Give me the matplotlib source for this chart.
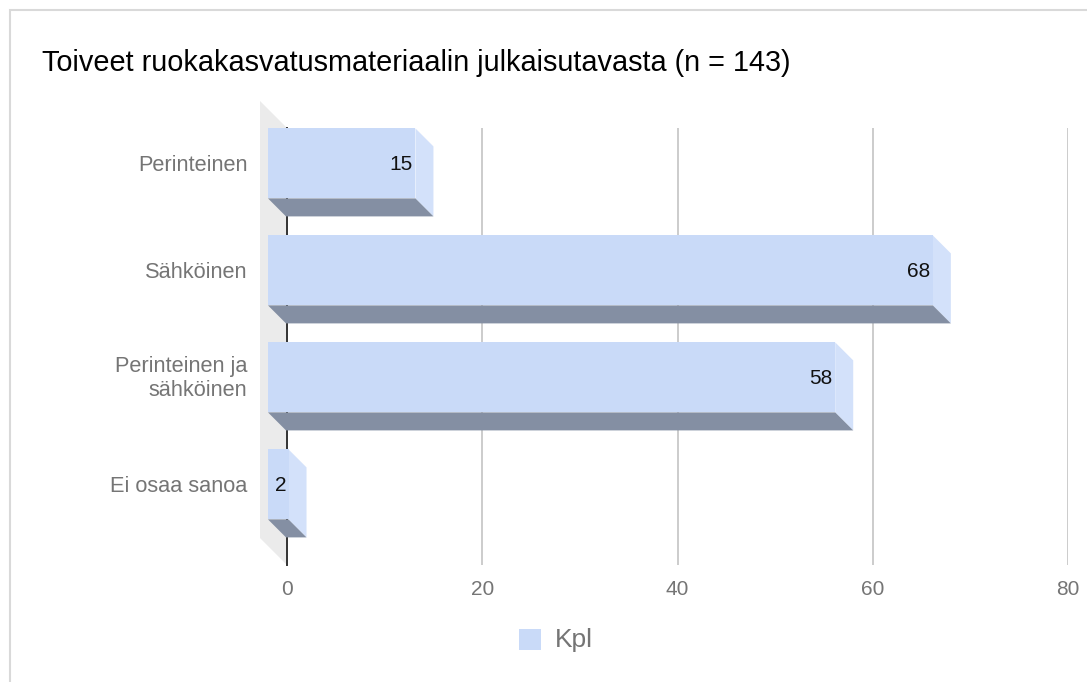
import matplotlib
matplotlib.use("Agg")
import matplotlib.pyplot as plt
from matplotlib.patches import Polygon, Rectangle
from matplotlib.transforms import ScaledTranslation

categories = ["Perinteinen", "Sähköinen", "Perinteinen ja\nsähköinen", "Ei osaa sanoa"]
values = [15, 68, 58, 2]
x_ticks = [0, 20, 40, 60, 80]
title = "Toiveet ruokakasvatusmateriaalin julkaisutavasta (n = 143)"
series_name = "Kpl"

W, H = 1087, 682
plt.rcParams["font.family"] = ["Liberation Sans", "DejaVu Sans"]
fig = plt.figure(figsize=(W / 100, H / 100), dpi=100, facecolor="white")

# frame of the chart
fig.add_artist(Rectangle((9.5 / W, -0.02), 1.1, (H - 9.5) / H + 0.02, transform=fig.transFigure,
                         fc="white", ec="#d9d9d9", lw=1.5, zorder=-5))

L, R, T, B = 287, 1068, 128, 565
ax = fig.add_axes([L / W, 1 - B / H, (R - L) / W, (B - T) / H])
ax.patch.set_alpha(0)
step = 107.0
ax.set_xlim(0, 80)
ax.set_ylim(3 + (B - 484.4) / step, -(163.4 - T) / step)
for s in ax.spines.values():
    s.set_visible(False)

px = 80 / (R - L)      # data units per pixel, x
py = 1 / step          # data units per pixel, y
d = 18 * px            # depth of the 3D effect
dy = 18 * py
hh = 35 * py           # half height of a front face

# wall behind the bars
wall_dx = 27 * px
wall_dy = 27 * py
y0, y1 = ax.get_ylim()[1], ax.get_ylim()[0]
ax.add_patch(Polygon([(-wall_dx, y0 - wall_dy), (0, y0), (0, y1), (-wall_dx, y1 - wall_dy)],
                     closed=True, fc="#ebebeb", ec="none", clip_on=False, zorder=1))

ax.set_xticks(x_ticks)
ax.grid(axis="x", color="#cccccc", lw=1.4, zorder=1.5)
ax.set_axisbelow(True)
ax.axvline(0, color="#333333", lw=1.4, zorder=2, clip_on=False)

ax.set_yticks(range(len(categories)))
ax.set_yticklabels(categories, fontsize=15.7, color="#757575", linespacing=1.2)
ax.tick_params(axis="y", length=0, pad=28.5)
ax.tick_params(axis="x", length=0, pad=11, labelsize=15, labelcolor="#757575")
# the two-line label sits a little higher than the automatic centring
two_line = ax.get_yticklabels()[2]
two_line.set_transform(two_line.get_transform() + ScaledTranslation(0, 3 / 100, fig.dpi_scale_trans))

front, side, under = "#c9daf8", "#d3e1fa", "#848fa3"
for i, v in enumerate(values):
    xl, xr = -19 * px, v - d
    ax.add_patch(Polygon([(xr, i - hh), (v, i - hh + dy), (v, i + hh + dy), (xr, i + hh)],
                         closed=True, fc=side, ec="none", clip_on=False, zorder=3))
    ax.add_patch(Polygon([(xl, i + hh), (xr, i + hh), (v, i + hh + dy), (xl + d, i + hh + dy)],
                         closed=True, fc=under, ec="none", clip_on=False, zorder=3))
    ax.add_patch(Rectangle((xl, i - hh), xr - xl, 2 * hh, fc=front, ec="none", clip_on=False, zorder=4))
    ax.text(xr - 2.5 * px, i + 1 * py, str(v), ha="right", va="center", fontsize=15, color="#111111", zorder=5)

fig.text(42 / W, 1 - 63 / H, title, fontsize=20.75, color="black", ha="left", va="center")

fig.add_artist(Rectangle((519 / W, 1 - 650 / H), 22 / W, 21 / H, transform=fig.transFigure,
                         fc=front, ec="none"))
fig.text(555 / W, 1 - 640 / H, series_name, fontsize=19, color="#757575", ha="left", va="center")

fig.savefig("out.png", dpi=100, facecolor="white")
